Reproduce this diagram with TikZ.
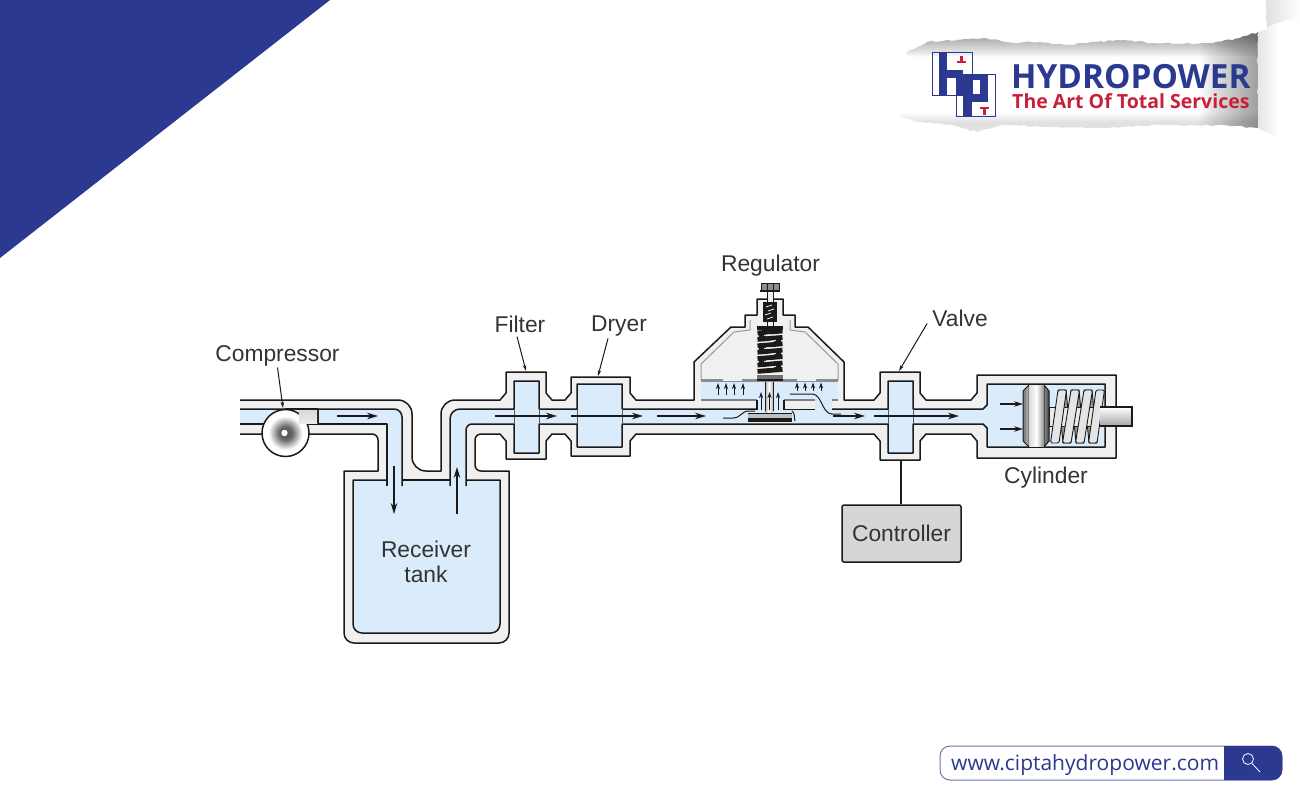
\documentclass[tikz,border=0pt]{standalone}
\usepackage{fontspec}
\usetikzlibrary{arrows.meta,decorations.pathmorphing}
\setmainfont{Liberation Sans}
\newfontfamily\logofont{Open Sans}
\definecolor{brand}{HTML}{2B3990}
\definecolor{brandred}{HTML}{C8203A}
\definecolor{water}{HTML}{DAECFB}
\definecolor{shell}{HTML}{F0F0F0}
\definecolor{ink}{HTML}{1A1A1A}
\pgfdeclareradialshading{compshade}{\pgfpointorigin}{color(0bp)=(black!70);color(7bp)=(black!60);color(18bp)=(white);color(27bp)=(white);color(35bp)=(black!45);color(50bp)=(black!45)}
\tikzset{
  wall/.style={draw=ink,line width=1.5pt,line join=round},
  thin wall/.style={draw=black!65,line width=.8pt},
  soft wall/.style={draw=black!40,line width=1pt},
  flow/.style={draw=ink,line width=1.1pt,-{Stealth[length=11pt,width=6.5pt]}},
  tiny flow/.style={draw=ink,line width=1pt,-{Stealth[length=6pt,width=4pt]}},
  mid flow/.style={draw=ink,line width=1.1pt,-{Stealth[length=9pt,width=5.5pt]}},
  leader/.style={draw=ink,line width=1pt,-{Stealth[length=6pt,width=3.5pt]}},
  lbl/.style={font=\fontsize{22.8}{25}\selectfont,text=black!80,inner sep=2pt,align=center},
}
\def\outerpipe{(240,400) [rounded corners=14pt] -- (412,400) -- (412,471) [sharp corners] -- (441,471) [rounded corners=14pt] -- (441,400) [sharp corners] -- (500,400) -- (506,393) -- (506,372) -- (546,372) -- (546,393) -- (552,400) -- (565,400) -- (571,393) -- (571,377) -- (630,377) -- (630,393) -- (636,400) -- (694,400) -- (694,362) -- (731,327) -- (745,327) -- (745,315) -- (757,315) -- (757,299) -- (783,299) -- (783,315) -- (795,315) -- (795,327) -- (808,327) -- (844,362) -- (844,400) -- (874,400) -- (880,393) -- (880,372) -- (920,372) -- (920,393) -- (926,400) -- (971,400) -- (977,393) -- (977,375) -- (1116,375) -- (1116,458) -- (977,458) -- (977,441) -- (971,434) -- (926,434) -- (920,441) -- (920,460) -- (880,460) -- (880,441) -- (874,434) -- (636,434) -- (630,441) -- (630,456) -- (571,456) -- (571,441) -- (565,434) -- (552,434) -- (546,441) -- (546,459) -- (506,459) -- (506,441) -- (500,434) [rounded corners=6pt] -- (475,434) -- (475,471) [sharp corners] -- (509,471) [rounded corners=10pt] -- (509,643) -- (344,643) [sharp corners] -- (344,471) -- (378,471) [rounded corners=6pt] -- (378,434) [sharp corners] -- (240,434)}
\def\innerpipe{(240,409) [rounded corners=8pt] -- (402,409) -- (402,480) [sharp corners] -- (450,480) [rounded corners=10pt] -- (450,409) [sharp corners] -- (514,409) -- (514,381) -- (539,381) -- (539,409) -- (577,409) -- (577,384) -- (622,384) -- (622,409) -- (757,409) -- (757,400) -- (701,400) -- (701,380) -- (838,380) -- (838,400) -- (832,400) -- (832,409) -- (888,409) -- (888,381) -- (913,381) -- (913,409) -- (983,409) -- (987,405) -- (987,384) -- (1105,384) -- (1105,447) -- (987,447) -- (987,428) -- (983,424) -- (913,424) -- (913,453) -- (888,453) -- (888,424) -- (622,424) -- (622,447) -- (577,447) -- (577,424) -- (539,424) -- (539,453) -- (514,453) -- (514,424) [rounded corners=6pt] -- (466,424) -- (466,480) [sharp corners] -- (500,480) [rounded corners=9pt] -- (500,633) -- (353,633) [sharp corners] -- (353,480) -- (387,480) -- (387,424) -- (240,424)}
\begin{document}
\begin{tikzpicture}[x=1pt,y=-1pt]
\useasboundingbox (0,0) rectangle (1300,800);
% corner banner
\fill[brand] (0,0) -- (330,0) -- (0,258) -- cycle;
% torn paper logo
\begin{scope}
\path[clip,decorate,decoration={random steps,segment length=4pt,amplitude=.9pt}] (907,52) -- (927,42) -- (957,40) -- (983,38) -- (1013,43) -- (1040,42) -- (1070,45) -- (1097,42) -- (1123,40) -- (1153,43) -- (1180,44) -- (1213,43) -- (1240,38) -- (1258,32) -- (1258,128) -- (1223,125) -- (1190,125) -- (1157,125) -- (1103,128) -- (1057,127) -- (1003,125) -- (977,132) -- (950,125) -- (917,122) -- (900,117) -- (905,93) -- (902,78) -- cycle;
\foreach \i in {0,...,19} \fill[black,opacity=.02] (895,30) rectangle (1265,38+\i);
\foreach \i in {0,...,9} \fill[black,opacity=.012] (895,135) rectangle (1265,122-\i);
\foreach \i in {0,...,29} \fill[black,opacity=.016] (1260,30) rectangle (1258-2*\i,135);
\end{scope}
\shade[left color=black!10,right color=white,middle color=white] (1258,32) .. controls (1275,26) and (1285,20) .. (1300,18) -- (1300,140) .. controls (1285,138) and (1270,135) .. (1258,128) -- cycle;
\shade[left color=black!12,right color=white] (1266,0) -- (1300,0) -- (1300,18) .. controls (1285,20) and (1275,23) .. (1267,28) -- cycle;
% HP mark
\draw[brand,line width=1pt] (932,53) rectangle (972,95);
\draw[brand,line width=1pt] (956,74) rectangle (995,116);
\fill[brand] (939,53) rectangle (947,95);
\fill[brand] (947,70) rectangle (963,78);
\fill[brand] (956,70) rectangle (963,95);
\fill[brand] (963,74) rectangle (972,116);
\fill[brand] (972,74) rectangle (988,80);
\fill[brand] (980,74) rectangle (988,102);
\fill[brand] (964,94) rectangle (988,102);
\fill[brandred] (960,56) rectangle (962.5,61);
\fill[brandred] (957,61) rectangle (966,63);
\fill[brandred] (980,107) rectangle (989,109);
\fill[brandred] (983.3,109) rectangle (985.7,115);
\node[name=logoA,anchor=west,inner sep=0pt,text=brand,font=\logofont\bfseries\fontsize{33.3}{36}\selectfont] at (1011,77) {HYDROPOWER};
\node[name=logoB,anchor=west,inner sep=0pt,text=brandred,font=\logofont\bfseries\fontsize{19.5}{24}\selectfont] at (1012,101) {The Art Of Total Services};
% search bar
\draw[brand!70,line width=1pt,rounded corners=10pt,fill=white] (940,746) rectangle (1282,780);
\fill[brand] (1224,746) [rounded corners=10pt] -- (1282,746) -- (1282,780) [sharp corners] -- (1224,780) -- cycle;
\node[name=url,anchor=west,inner sep=0pt,text=brand,font=\logofont\fontsize{21}{26}\selectfont] at (951,765.5) {www.ciptahydropower.com};
\draw[white,line width=.8pt] (1248,759) circle (5.5);
\draw[white,line width=.8pt] (1252,763.5) -- (1260,772);
% body of the plant
\fill[shell] \outerpipe -- cycle;
\draw[wall] \outerpipe;
\fill[water] \innerpipe -- cycle;
% walls of the flow passage
\draw[wall] (240,409) [rounded corners=8pt] -- (402,409) -- (402,486);
\draw[wall] (402,480) -- (450,480);
\draw[wall] (450,486) [rounded corners=10pt] -- (450,409) [sharp corners] -- (514,409) -- (514,381) -- (539,381) -- (539,409) -- (577,409) -- (577,384) -- (622,384) -- (622,409) -- (757,409);
\draw[wall] (815,409) -- (784,409);
\draw[wall] (832,409) -- (888,409) -- (888,381) -- (913,381) -- (913,409) -- (983,409) -- (987,405) -- (987,384) -- (1105,384) -- (1105,447) -- (987,447) -- (987,428) -- (983,424) -- (913,424) -- (913,453) -- (888,453) -- (888,424) -- (622,424) -- (622,447) -- (577,447) -- (577,424) -- (539,424) -- (539,453) -- (514,453) -- (514,424) [rounded corners=6pt] -- (466,424) -- (466,486);
\draw[wall] (466,480) -- (500,480) [rounded corners=9pt] -- (500,633) -- (353,633) [sharp corners] -- (353,480) -- (387,480);
\draw[wall] (387,486) -- (387,424) -- (240,424);
\draw[thin wall] (514,409) -- (514,424) (539,409) -- (539,424) (577,409) -- (577,424) (622,409) -- (622,424) (888,409) -- (888,424) (913,409) -- (913,424);
% regulator: island and chamber
\fill[shell] (784,400) rectangle (815,409);
\draw[draw=black!50,line width=1.2pt] (701,400) -- (757,400) (784,400) -- (815,400) (832,400) -- (838,400);
\draw[ink,line width=1.2pt] (757,400) -- (757,410) (784,400) -- (784,410);
\draw[soft wall] (701,380) -- (701,364) -- (734,332) -- (750,330) -- (750,320);
\draw[soft wall] (838,380) -- (838,364) -- (805,332) -- (790,330) -- (790,320);
\fill[black!45] (701,379) rectangle (838,382);
\fill[shell] (723,378.5) rectangle (742,380.5);
\fill[shell] (797,378.5) rectangle (816,380.5);
% regulator: bolt and small spring
\fill[ink] (760,290) rectangle (780,292);
\draw[ink,line width=.9pt,fill=black!45] (761,283) rectangle (779,290);
\draw[ink,line width=.6pt] (767,283) -- (767,290) (773,283) -- (773,290);
\fill[shell] (767,292) rectangle (773,326);
\draw[ink,line width=.8pt] (767,292) -- (767,303) (773,292) -- (773,303);
\fill[ink] (763,302) rectangle (777,322);
\foreach \y/\dx in {306/0,310/2,314/-1,318/1} \draw[white,line width=.7pt] (766+\dx,\y+1) -- (772+\dx,\y-1);
\draw[ink,line width=.8pt] (767,322) -- (767,326) (773,322) -- (773,326);
% regulator: large spring
\fill[ink] (757,326) rectangle (783,329.5);
\foreach \y in {332,338.4,344.8,351.2,357.6,364,370.4}
  \draw[ink,line width=4.8pt] (757.5,\y+1) -- (782.5,\y-1);
\foreach \y in {332,344.8,357.6}
  \fill[ink] (759,\y) rectangle (766,\y+6.4);
\foreach \y in {338.4,351.2,364}
  \fill[ink] (774,\y) rectangle (781,\y+6.4);
\foreach \y in {335,348,361}
  \draw[shell,line width=.9pt] (764,\y+.5) -- (770,\y-.5);
\foreach \y in {341,354,367}
  \draw[shell,line width=.9pt] (768,\y+.5) -- (776,\y-.5);
\fill[black!55] (757,375) rectangle (783,379);
\fill[ink] (757,379) rectangle (783,381);
% regulator: stem and plug
\shade[left color=black!30,right color=black!30,middle color=white] (765,382) rectangle (773,413);
\draw[ink,line width=.6pt] (765,382) -- (765,411) (773,382) -- (773,411);
\fill[black!25] (748,413) rectangle (792,418);
\draw[ink,line width=1pt] (748,413) -- (792,413);
\fill[ink] (748,418) rectangle (792,421.5);
\draw[tiny flow] (761,410) -- (761,392);
\draw[tiny flow] (769.5,410) -- (769.5,392);
\draw[tiny flow] (778,410) -- (778,392);
\foreach \x in {718,726,734,743} \draw[tiny flow] (\x,394.5) -- (\x,383);
\foreach \x in {797,805,813,821} \draw[tiny flow] (\x,391) -- (\x,382.5);
% flow lines round the plug
\draw[ink,line width=1pt] (723,418) -- (733,418) .. controls (741,418) and (741,411) .. (749,411) -- (755,411);
\draw[ink,line width=1pt] (792,411) .. controls (795,413) and (794,417) .. (795,421);
\draw[ink,line width=1pt] (790,394) -- (812,394) .. controls (822,394) and (822,414) .. (832,414) -- (841,414);
% flow arrows
\draw[flow] (337,416) -- (378,416);
\draw[flow] (495,416) -- (557,416);
\draw[flow] (571,416) -- (643,416);
\draw[flow] (657,416) -- (706,416);
\draw[flow] (833,416) -- (865,416);
\draw[flow] (874,416) -- (959,416);
\draw[flow] (394,466) -- (394,514);
\draw[flow] (457,514) -- (457,467);
\draw[mid flow] (1000,404) -- (1023,404);
\draw[mid flow] (1000,429) -- (1023,429);
% compressor
\draw[wall] (285,409) -- (318,409) -- (318,424) -- (300,424);
\draw[wall,shading=compshade] (285.5,433) circle (23.5);
\shade[top color=black!15,middle color=white,bottom color=black!8] (299,410) rectangle (317,423);
\fill[white] (284.5,433) circle (3.2);
% cylinder: spring behind
\foreach \x/\xn in {1062/1067,1075/1080,1088/1093}
  \draw[ink,line width=.9pt,fill=black!40] (\x-4,390) -- (\x+4,390) -- (\xn+4,443) -- (\xn-4,443) -- cycle;
\draw[ink,line width=.8pt,fill=black!8] (1049,407) rectangle (1100,426);
% cylinder: spring in front
\foreach \xb/\xp in {1055/1062,1067/1075,1080/1088,1093/1100}
  \draw[ink,line width=.9pt,fill=black!10,rounded corners=1.5pt] (\xb-4.5,443) -- (\xb+4,443) -- (\xp+4.5,390) -- (\xp-4,390) -- cycle;
% cylinder: rod and piston
\draw[ink,line width=1.2pt,top color=white,bottom color=black!35] (1100,407) -- (1132,407) -- (1132,426) -- (1100,426);
\draw[ink,line width=1pt,left color=black!55,right color=black!25] (1029,385) -- (1023,391) -- (1023,441) -- (1029,447) -- cycle;
\draw[ink,line width=1pt,left color=black!45,right color=black!75] (1044,385) -- (1049,391) -- (1049,441) -- (1044,447) -- cycle;
\shade[left color=black!15,right color=black!45,middle color=white] (1029,385) rectangle (1044,447);
\draw[ink,line width=1pt] (1029,384.5) -- (1044,384.5) (1029,447) -- (1044,447);
% controller
\node[name=controller,draw=ink,line width=1.5pt,fill=black!16,rounded corners=2pt,minimum width=119pt,minimum height=57pt,inner sep=0pt,lbl] at (901.5,533.5) {Controller};
\coordinate (valvebase) at (901,460);
\draw[ink,line width=1.2pt] (valvebase) -- (controller.north -| valvebase);
% labels and leaders
\node[name=lblComp,lbl] at (277.5,356) {Compressor};
\node[name=lblFilter,lbl] at (520,324) {Filter};
\node[name=lblDryer,lbl] at (619,326) {Dryer};
\node[name=lblReg,lbl] at (770.5,266) {Regulator};
\node[name=lblValve,lbl] at (960,318.5) {Valve};
\node[name=lblCyl,lbl] at (1046,478) {Cylinder};
\node[name=lblTank,lbl] at (426,561.5) {Receiver\\tank};
\coordinate (compTip) at (283,408);
\coordinate (filterTip) at (526,371);
\coordinate (dryerTip) at (598,376);
\coordinate (valveTip) at (899,371);
\draw[leader] (lblComp.south) ++(0,-1) -- (compTip);
\draw[leader] (lblFilter.south) ++(-3,2) -- (filterTip);
\draw[leader] (lblDryer.south) ++(-11,0) -- (dryerTip);
\draw[leader] (lblValve.west) ++(-3,5) -- (valveTip);
\end{tikzpicture}
\end{document}
